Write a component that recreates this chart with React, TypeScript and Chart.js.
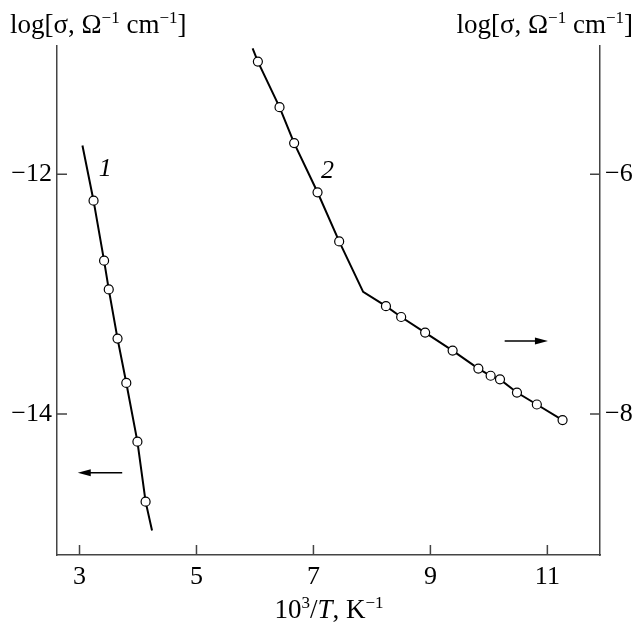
import React, { useEffect, useRef } from "react";
import { Chart, registerables } from "chart.js";

Chart.register(...registerables);

// ---- data ----
const xTicks = [3, 5, 7, 9, 11];
const leftTicks = [-12, -14];
const rightTicks = [-6, -8];

// curve 1 (left axis): ends of the fitted line have no marker
const series1X = [3.05, 3.24, 3.42, 3.5, 3.65, 3.8, 3.99, 4.13, 4.24];
const series1Y = [-11.76, -12.22, -12.72, -12.96, -13.37, -13.74, -14.23, -14.73, -14.97];
const series1Marker = [false, true, true, true, true, true, true, true, false];

// curve 2 (right axis)
const series2X = [5.96, 6.05, 6.42, 6.67, 7.07, 7.44, 7.85, 8.24, 8.5, 8.91, 9.38, 9.82, 10.03, 10.19, 10.48, 10.82, 11.26];
const series2Y = [-4.95, -5.06, -5.44, -5.74, -6.15, -6.56, -6.98, -7.1, -7.19, -7.32, -7.47, -7.62, -7.68, -7.71, -7.82, -7.92, -8.05];
const series2Marker = [false, true, true, true, true, true, false, true, true, true, true, true, true, true, true, true, true];

const curveLabels = [
  { text: "1", x: 3.44, y: -11.96, axis: "y" },
  { text: "2", x: 7.24, y: -5.97, axis: "y2" },
];
const arrows = [
  { x0: 3.73, x1: 2.97, y: -14.49, axis: "y" },
  { x0: 10.27, x1: 11.01, y: -7.39, axis: "y2" },
];

const FONT = '"Liberation Serif", "Times New Roman", serif';
const FS = 26;
const TITLE_FS = 27;
const SUP = 17;
const AXIS_COLOR = "#444";

type Part = { t: string; sup?: boolean; it?: boolean };

function drawRich(ctx: CanvasRenderingContext2D, parts: Part[], x: number, y: number, align: "left" | "right" | "center") {
  const fontFor = (p: Part) => `${p.it ? "italic " : ""}${p.sup ? SUP : TITLE_FS}px ${FONT}`;
  let total = 0;
  const widths = parts.map((p) => {
    ctx.font = fontFor(p);
    const w = ctx.measureText(p.t).width;
    total += w;
    return w;
  });
  let cx = align === "left" ? x : align === "right" ? x - total : x - total / 2;
  ctx.textAlign = "left";
  ctx.textBaseline = "alphabetic";
  parts.forEach((p, i) => {
    ctx.font = fontFor(p);
    ctx.fillText(p.t, cx, p.sup ? y - 10 : y);
    cx += widths[i];
  });
}

const yTitle: Part[] = [
  { t: "log[σ, Ω" },
  { t: "−1", sup: true },
  { t: " cm" },
  { t: "−1", sup: true },
  { t: "]" },
];
const xTitle: Part[] = [
  { t: "10" },
  { t: "3", sup: true },
  { t: "/" },
  { t: "T", it: true },
  { t: ", K" },
  { t: "−1", sup: true },
];

const decor = {
  id: "decor",
  afterDraw(chart: any) {
    const ctx: CanvasRenderingContext2D = chart.ctx;
    const { left, right, bottom } = chart.chartArea;
    const xs = chart.scales.x;
    ctx.save();
    ctx.strokeStyle = AXIS_COLOR;
    ctx.lineWidth = 1.5;
    ctx.beginPath();
    xTicks.forEach((v) => {
      const px = xs.getPixelForValue(v);
      ctx.moveTo(px, bottom);
      ctx.lineTo(px, bottom - 10);
    });
    leftTicks.forEach((v) => {
      const py = chart.scales.y.getPixelForValue(v);
      ctx.moveTo(left, py);
      ctx.lineTo(left + 10, py);
    });
    rightTicks.forEach((v) => {
      const py = chart.scales.y2.getPixelForValue(v);
      ctx.moveTo(right, py);
      ctx.lineTo(right - 10, py);
    });
    ctx.stroke();

    // arrows
    ctx.strokeStyle = "#000";
    ctx.fillStyle = "#000";
    ctx.lineWidth = 1.5;
    arrows.forEach((a) => {
      const ys = chart.scales[a.axis];
      const p0 = xs.getPixelForValue(a.x0);
      const p1 = xs.getPixelForValue(a.x1);
      const py = ys.getPixelForValue(a.y);
      const dir = Math.sign(p1 - p0);
      ctx.beginPath();
      ctx.moveTo(p0, py);
      ctx.lineTo(p1 - dir * 8, py);
      ctx.stroke();
      ctx.beginPath();
      ctx.moveTo(p1, py);
      ctx.lineTo(p1 - dir * 13, py - 3.5);
      ctx.lineTo(p1 - dir * 13, py + 3.5);
      ctx.closePath();
      ctx.fill();
    });

    // curve labels
    ctx.fillStyle = "#000";
    ctx.font = `italic ${FS}px ${FONT}`;
    ctx.textAlign = "center";
    ctx.textBaseline = "middle";
    curveLabels.forEach((l) => {
      ctx.fillText(l.text, xs.getPixelForValue(l.x), chart.scales[l.axis].getPixelForValue(l.y));
    });

    // axis titles
    drawRich(ctx, yTitle, 10, 33, "left");
    drawRich(ctx, yTitle, 633, 33, "right");
    drawRich(ctx, xTitle, (left + right) / 2 + 0.5, 618, "center");
    ctx.restore();
  },
};

const fmt = (v: number) => (v < 0 ? "−" + Math.abs(v) : String(v));

export default function App() {
  const ref = useRef<HTMLCanvasElement>(null);
  useEffect(() => {
    document.body.style.margin = "0";
    const canvas = ref.current!;
    const pts = (xs: number[], ys: number[]) => xs.map((x, i) => ({ x, y: ys[i] }));
    const chart = new Chart(canvas, {
      type: "line",
      data: {
        datasets: [
          {
            data: pts(series1X, series1Y),
            yAxisID: "y",
            borderColor: "#000",
            borderWidth: 2,
            pointRadius: series1Marker.map((m) => (m ? 4.5 : 0)),
            pointBackgroundColor: "#fff",
            pointBorderColor: "#000",
            pointBorderWidth: 1.2,
            tension: 0,
          },
          {
            data: pts(series2X, series2Y),
            yAxisID: "y2",
            borderColor: "#000",
            borderWidth: 2,
            pointRadius: series2Marker.map((m) => (m ? 4.5 : 0)),
            pointBackgroundColor: "#fff",
            pointBorderColor: "#000",
            pointBorderWidth: 1.2,
            tension: 0,
          },
        ],
      },
      options: {
        animation: false,
        responsive: false,
        events: [],
        layout: { padding: { top: 46, left: 0, right: 0, bottom: 0 } },
        plugins: { legend: { display: false }, tooltip: { enabled: false } },
        scales: {
          x: {
            type: "linear",
            min: 2.615,
            max: 11.9,
            afterFit: (s: any) => { s.height = 72; },
            afterBuildTicks: (s: any) => { s.ticks = xTicks.map((v) => ({ value: v })); },
            grid: { display: true, drawOnChartArea: false, drawTicks: false },
            border: { display: true, color: AXIS_COLOR, width: 1.5 },
            ticks: { color: "#000", font: { family: FONT, size: FS }, padding: 7, callback: (v: any) => fmt(v), maxRotation: 0 },
          },
          y: {
            type: "linear",
            position: "left",
            min: -15.175,
            max: -10.93,
            afterFit: (s: any) => { s.width = 57; },
            afterBuildTicks: (s: any) => { s.ticks = leftTicks.map((v) => ({ value: v })); },
            grid: { display: true, drawOnChartArea: false, drawTicks: false },
            border: { display: true, color: AXIS_COLOR, width: 1.5 },
            ticks: { color: "#000", font: { family: FONT, size: FS }, padding: 5, callback: (v: any) => fmt(v) },
          },
          y2: {
            type: "linear",
            position: "right",
            min: -9.175,
            max: -4.93,
            afterFit: (s: any) => { s.width = 36; },
            afterBuildTicks: (s: any) => { s.ticks = rightTicks.map((v) => ({ value: v })); },
            grid: { display: true, drawOnChartArea: false, drawTicks: false },
            border: { display: true, color: AXIS_COLOR, width: 1.5 },
            ticks: { color: "#000", font: { family: FONT, size: FS }, padding: 5, callback: (v: any) => fmt(v) },
          },
        },
      },
      plugins: [decor],
    });
    return () => chart.destroy();
  }, []);
  return <canvas ref={ref} width={636} height={627} style={{ display: "block" }} />;
}
